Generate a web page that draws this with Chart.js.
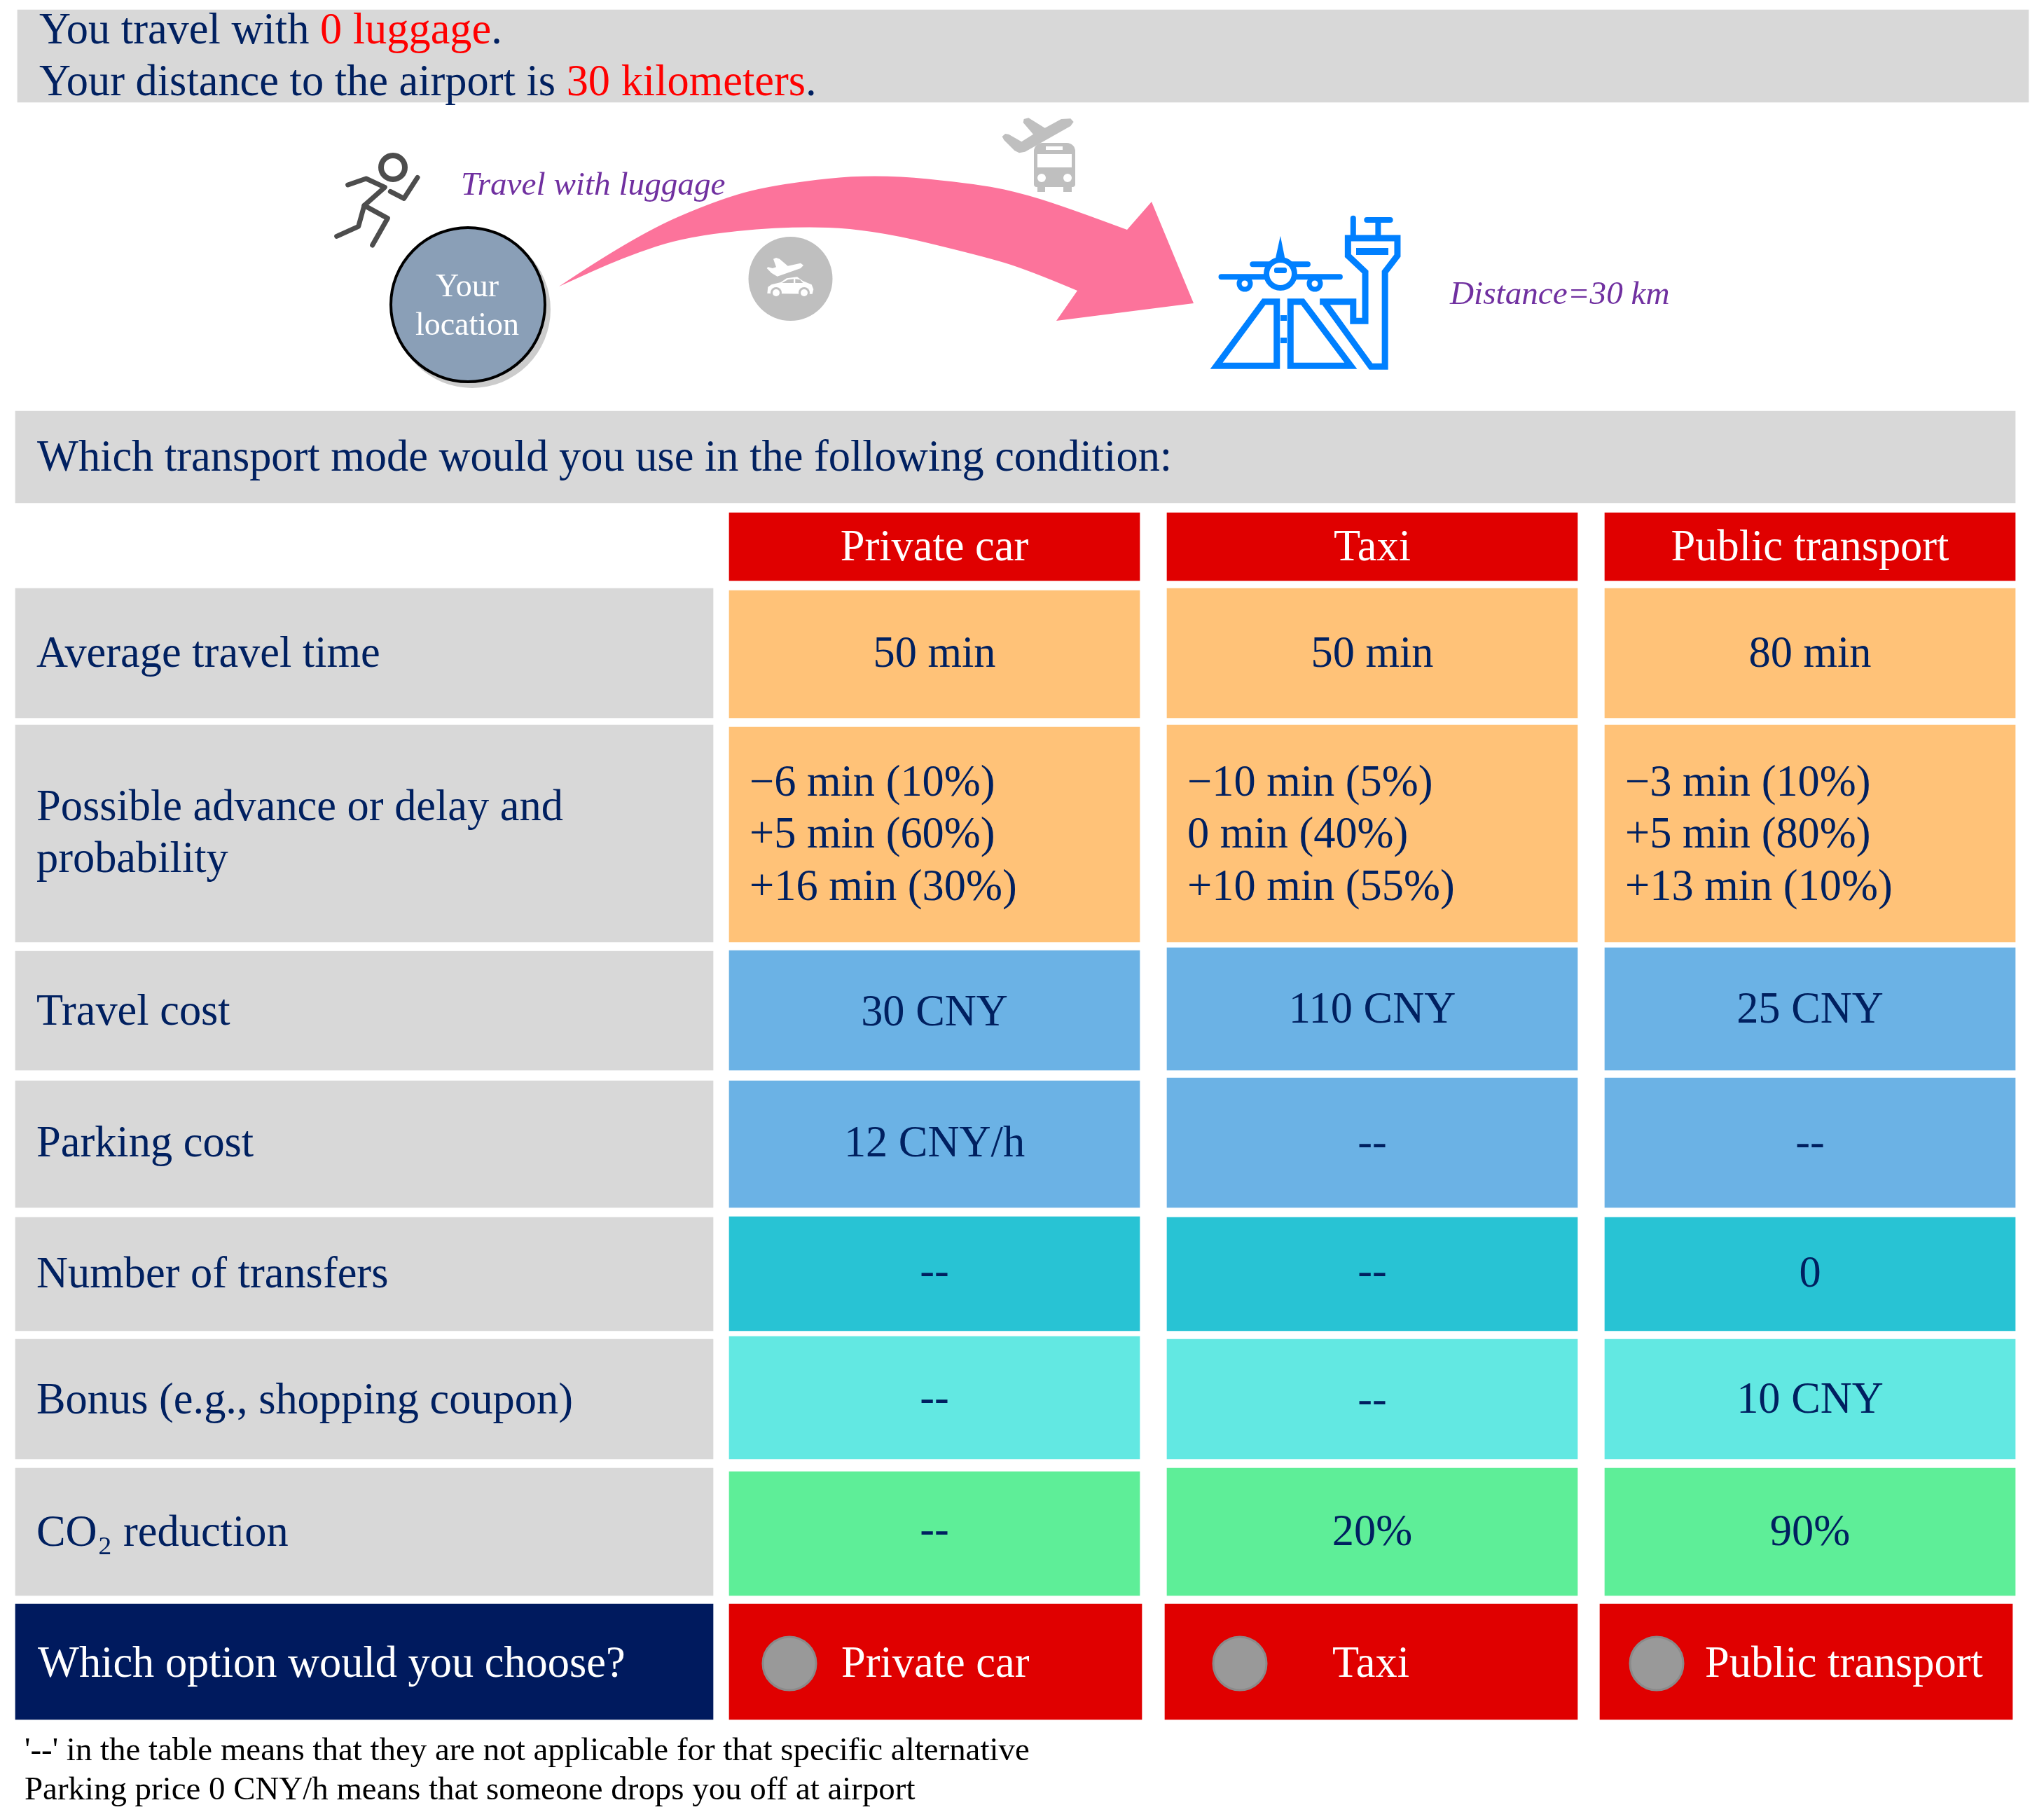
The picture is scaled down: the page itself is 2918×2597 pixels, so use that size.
<!DOCTYPE html>
<html>
<head>
<meta charset="utf-8">
<style>
  html, body { margin: 0; padding: 0; background: #fff; }
  canvas { display: block; }
</style>
<script src="https://cdn.jsdelivr.net/npm/chart.js@4/dist/chart.umd.min.js"></script>
</head>
<body>
<canvas id="myChart" width="2918" height="2597"></canvas>
<script>
// contents of the table
const modes = ["Private car", "Taxi", "Public transport"];
const rowLabels = [
    "Average travel time",
    ["Possible advance or delay and", "probability"],
    "Travel cost",
    "Parking cost",
    "Number of transfers",
    "Bonus (e.g., shopping coupon)",
    "CO₂ reduction"
];
const privateCar = ["50 min", ["−6 min (10%)", "+5 min (60%)", "+16 min (30%)"], "30 CNY", "12 CNY/h", "--", "--", "--"];
const taxi = ["50 min", ["−10 min (5%)", "0 min (40%)", "+10 min (55%)"], "110 CNY", "--", "--", "--", "20%"];
const publicTransport = ["80 min", ["−3 min (10%)", "+5 min (80%)", "+13 min (10%)"], "25 CNY", "--", "0", "10 CNY", "90%"];
const question = "Which transport mode would you use in the following condition:";
const choosePrompt = "Which option would you choose?";
const notes = ["'--' in the table means that they are not applicable for that specific alternative",
               "Parking price 0 CNY/h means that someone drops you off at airport"];

// layout of the table, in page pixels
const labelCol = { left: 22, right: 1018 };
const cols = [{ left: 1041, right: 1627 }, { left: 1666, right: 2252 }, { left: 2291, right: 2877 }];
const chooseCols = [{ left: 1041, right: 1630 }, { left: 1663, right: 2252 }, { left: 2284, right: 2873 }];
const rowBottoms = [1025, 1345, 1528, 1724, 1900, 2083, 2278];
const labelTops = [840, 1035, 1358, 1543, 1738, 1912, 2096];
const colTops = [
    [843, 1038, 1357, 1543, 1737, 1908, 2101],
    [840, 1035, 1353, 1539, 1738, 1912, 2096],
    [840, 1035, 1353, 1539, 1738, 1912, 2096]
];
const headerBand = [732, 829];
const chooseBand = [2290, 2455];
const rowColors = ["#FFC278", "#FFC278", "#6BB2E5", "#6BB2E5", "#28C3D4", "#62E8E2", "#5EEE98"];
const labelBaselines = [952, [1171, 1245], 1463, 1651, 1838, 2018, 2207];
const cellBaselines = [
    [952, [1136, 1210, 1285], 1464, 1651, 1835, 2016, 2204],
    [952, [1136, 1210, 1285], 1460, 1651, 1835, 2018, 2206],
    [952, [1136, 1210, 1285], 1460, 1651, 1837, 2017, 2206]
];
const chooseTextX = [1201, 1902, 2434];
const radioCenters = [{ x: 1127, y: 2375 }, { x: 1770, y: 2375 }, { x: 2365, y: 2375 }];

const NAVY = "#002060", RED = "#E00000", GRAY = "#D8D8D8", PURPLE = "#7030A0";
const ICON_GRAY = "#BFBFBF", BLUE = "#0080FF", PINK = "#FC739B", INK = "#4D4D4D";

function colDataset(col, items, colors) {
    return {
        type: "bar",
        stack: "tabla",
        order: 2,
        barThickness: col.right - col.left,
        data: items.map((r) => ({ x: (col.left + col.right) / 2, y: r })),
        backgroundColor: colors
    };
}

const datasets = [
    colDataset({ left: 25, right: 2896 }, [[14, 146]], [GRAY]),
    colDataset({ left: 22, right: 2877 }, [[587, 718]], [GRAY]),
    colDataset(labelCol, labelTops.map((t, i) => [t, rowBottoms[i]]), labelTops.map(() => GRAY)),
    colDataset(labelCol, [chooseBand], ["#001A5E"])
];
cols.forEach((col, c) => {
    const items = [headerBand].concat(colTops[c].map((t, i) => [t, rowBottoms[i]]));
    datasets.push(colDataset(col, items, [RED].concat(rowColors)));
    datasets.push(colDataset(chooseCols[c], [chooseBand], [RED]));
});

function circles(points, radius, fill, border, borderWidth) {
    return {
        type: "scatter",
        order: 1,
        data: points,
        pointRadius: radius,
        pointHoverRadius: radius,
        pointBackgroundColor: fill,
        pointBorderColor: border,
        pointBorderWidth: borderWidth
    };
}
// drawn in reverse order, so the location circle comes before its shadow
datasets.unshift(
    circles(radioCenters, 38, "#999999", "#8A8A8A", 3),
    circles([{ x: 668, y: 435 }], 110, "#8A9FB7", "#000000", 4),
    circles([{ x: 674, y: 442 }], 112, "#CCCCCC", "#CCCCCC", 0),
    circles([{ x: 1128.5, y: 398 }], 60, ICON_GRAY, ICON_GRAY, 0)
);

// outlines of the decoration, in page pixels
const arrowTop = [[798, 409], [905, 337], [1032, 282], [1116, 262], [1249, 248], [1400, 263], [1467, 278], [1533, 300], [1609, 328]];
const arrowHead = [[1644, 288], [1704, 433], [1508, 458], [1538, 415]];
const arrowBottom = [[1538, 415], [1467, 385], [1400, 365], [1242, 327], [1123, 323], [982, 337], [891, 367], [798, 409]];
const busPlane = [[92, 135], [105, 123], [120, 125], [175, 157], [225, 125], [182, 75], [185, 60], [205, 55], [275, 98], [345, 60], [385, 58], [398, 72], [385, 90], [190, 200], [165, 205], [145, 195], [100, 150]];
const carPlane = [[108, 95], [120, 90], [135, 95], [170, 125], [225, 113], [237, 122], [225, 135], [125, 170], [100, 155], [80, 135], [85, 130], [105, 135], [120, 130]];
const carBody = [[82, 243], [85, 215], [100, 205], [140, 195], [165, 178], [210, 172], [235, 190], [272, 205], [280, 225], [275, 245]];
const carWindowA = [[145, 198], [170, 184], [195, 181], [195, 198]];
const carWindowB = [[202, 181], [222, 184], [235, 198], [202, 198]];
const runnerLines = [
    [[80, 162], [158, 135], [238, 172], [150, 250], [250, 305], [185, 420]],
    [[150, 250], [125, 340], [32, 382]],
    [[262, 190], [320, 220], [378, 130]]
];
const apLeft = [[356, 872], [238, 1147], [388, 1147], [388, 872]];
const apRight = [[422, 872], [452, 872], [572, 1147], [422, 1147]];
const apTower = [[495, 872], [578, 872], [578, 955], [608, 955], [608, 745], [565, 675], [565, 600], [688, 600], [688, 675], [657, 745], [657, 1150], [622, 1150], [505, 872]];

const drawExtras = {
    id: "drawExtras",
    afterDatasetsDraw(chart) {
        const ctx = chart.ctx;
        const X = (v) => chart.scales.x.getPixelForValue(v);
        const Y = (v) => chart.scales.y.getPixelForValue(v);

        function poly(points, map) {
            ctx.beginPath();
            points.forEach((p, i) => {
                const q = map ? map(p) : p;
                if (i === 0) ctx.moveTo(X(q[0]), Y(q[1])); else ctx.lineTo(X(q[0]), Y(q[1]));
            });
        }
        function smooth(points) {
            for (let i = 1; i < points.length - 1; i++) {
                const mx = (points[i][0] + points[i + 1][0]) / 2, my = (points[i][1] + points[i + 1][1]) / 2;
                ctx.quadraticCurveTo(X(points[i][0]), Y(points[i][1]), X(mx), Y(my));
            }
            const l = points[points.length - 1];
            ctx.lineTo(X(l[0]), Y(l[1]));
        }
        function rect(x0, y0, x1, y1, color) {
            ctx.fillStyle = color;
            ctx.fillRect(X(x0), Y(y0), X(x1) - X(x0), Y(y1) - Y(y0));
        }
        function dot(x, y, r, color) {
            ctx.fillStyle = color;
            ctx.beginPath();
            ctx.arc(X(x), Y(y), r, 0, Math.PI * 2);
            ctx.fill();
        }
        function put(str, x, y, font, color, align) {
            ctx.font = font;
            ctx.fillStyle = color;
            ctx.textAlign = align || "left";
            ctx.textBaseline = "alphabetic";
            ctx.fillText(str, X(x), Y(y));
        }
        function spans(parts, x, y, font) {
            ctx.font = font;
            let cx = x;
            parts.forEach((p) => {
                put(p[0], cx, y, font, p[1]);
                cx += ctx.measureText(p[0]).width;
            });
        }

        // arrow
        ctx.fillStyle = PINK;
        ctx.beginPath();
        ctx.moveTo(X(arrowTop[0][0]), Y(arrowTop[0][1]));
        smooth(arrowTop);
        arrowHead.forEach((p) => ctx.lineTo(X(p[0]), Y(p[1])));
        smooth(arrowBottom);
        ctx.closePath();
        ctx.fill();

        // bus and plane
        const bus = ([a, b]) => [1400 + a / 3, 150 + b / 3];
        ctx.fillStyle = ICON_GRAY;
        ctx.beginPath();
        ctx.roundRect(X(1476), Y(204), 59, 63, [12, 12, 4, 4]);
        ctx.fill();
        rect(1481, 262, 1492, 274, ICON_GRAY);
        rect(1518, 262, 1530, 274, ICON_GRAY);
        rect(1481, 220, 1530, 239, "#fff");
        rect(1493, 209, 1517, 214, "#fff");
        dot(1487, 254, 6, "#fff");
        dot(1524, 254, 6, "#fff");
        poly(busPlane, bus);
        ctx.fillStyle = ICON_GRAY;
        ctx.fill();

        // car and plane inside the grey circle
        const car = ([a, b]) => [1068 + a / 3, 338 + b / 3];
        poly(carPlane, car);
        ctx.fillStyle = "#fff";
        ctx.fill();
        poly(carBody, car);
        ctx.fill();
        poly(carWindowA, car);
        ctx.fillStyle = ICON_GRAY;
        ctx.fill();
        poly(carWindowB, car);
        ctx.fill();
        dot(1068 + 120 / 3, 338 + 240 / 3, 8, ICON_GRAY);
        dot(1068 + 240 / 3, 338 + 240 / 3, 8, ICON_GRAY);
        dot(1068 + 120 / 3, 338 + 240 / 3, 5, "#fff");
        dot(1068 + 240 / 3, 338 + 240 / 3, 5, "#fff");

        // runner
        const run = ([a, b]) => [470 + a / 3, 210 + b / 3];
        ctx.strokeStyle = INK;
        ctx.lineWidth = 7;
        ctx.lineCap = "round";
        ctx.lineJoin = "round";
        runnerLines.forEach((l) => { poly(l, run); ctx.stroke(); });
        ctx.lineWidth = 8;
        ctx.beginPath();
        ctx.arc(X(561), Y(239), 17, 0, Math.PI * 2);
        ctx.stroke();

        // airport
        const ap = ([a, b]) => [1600 + a / 1.742, 140 + b / 3];
        ctx.strokeStyle = BLUE;
        ctx.lineWidth = 9;
        ctx.lineCap = "butt";
        ctx.lineJoin = "miter";
        poly(apLeft, ap); ctx.closePath(); ctx.stroke();
        poly(apRight, ap); ctx.closePath(); ctx.stroke();
        poly(apTower, ap); ctx.stroke();
        rect(1828, 450, 1837, 458, BLUE);
        rect(1828, 482, 1837, 490, BLUE);
        rect(1936, 354, 1982, 364, BLUE);
        ctx.lineCap = "round";
        ctx.lineWidth = 8;
        poly([[578, 515], [578, 595]], ap); ctx.stroke();
        poly([[640, 525], [640, 595]], ap); ctx.stroke();
        poly([[612, 522], [670, 522]], ap); ctx.stroke();
        poly([[250, 766], [545, 766]], ap); ctx.stroke();
        poly([[328, 712], [465, 712]], ap); ctx.stroke();
        poly([[397, 590], [385, 685], [408, 685]], ap);
        ctx.fillStyle = BLUE;
        ctx.fill();
        ctx.fillStyle = "#fff";
        ctx.lineWidth = 8;
        ctx.beginPath();
        ctx.arc(X(1828), Y(391), 20, 0, Math.PI * 2);
        ctx.fill();
        ctx.stroke();
        ctx.lineWidth = 7;
        [1777, 1877].forEach((x) => {
            ctx.beginPath();
            ctx.arc(X(x), Y(405), 8, 0, Math.PI * 2);
            ctx.fillStyle = "#fff";
            ctx.fill();
            ctx.stroke();
        });
        ctx.beginPath();
        ctx.roundRect(X(1819), Y(382), 18, 8, 3);
        ctx.fillStyle = BLUE;
        ctx.fill();

        // texts
        const BIG = "62.4px 'Liberation Serif'";
        const SMALL = "46.9px 'Liberation Serif'";
        const SLANT = "italic 47.2px 'Liberation Serif'";
        spans([["You travel with ", NAVY], ["0 luggage", "#FF0000"], [".", NAVY]], 56, 62, BIG);
        spans([["Your distance to the airport is ", NAVY], ["30 kilometers", "#FF0000"], [".", NAVY]], 56, 136, BIG);
        put("Travel with luggage", 658, 278, SLANT, PURPLE);
        put("Distance=30 km", 2070, 434, SLANT, PURPLE);
        put("Your", 667, 423, "46px 'Liberation Serif'", "#fff", "center");
        put("location", 667, 478, "46px 'Liberation Serif'", "#fff", "center");
        put(question, 53, 672, BIG, NAVY);

        rowLabels.forEach((label, r) => {
            if (Array.isArray(label)) {
                label.forEach((l, i) => put(l, 52, labelBaselines[r][i], BIG, NAVY));
            } else {
                put(label, 52, labelBaselines[r], BIG, NAVY);
            }
        });
        [privateCar, taxi, publicTransport].forEach((values, c) => {
            const mid = (cols[c].left + cols[c].right) / 2;
            put(modes[c], mid, 800, BIG, "#fff", "center");
            values.forEach((v, r) => {
                if (Array.isArray(v)) {
                    v.forEach((l, i) => put(l, cols[c].left + 29, cellBaselines[c][r][i], BIG, NAVY));
                } else {
                    put(v, mid, cellBaselines[c][r], BIG, NAVY, "center");
                }
            });
            put(modes[c], chooseTextX[c], 2394, BIG, "#fff");
        });
        put(choosePrompt, 54, 2394, BIG, "#fff");
        put(notes[0], 35, 2513, SMALL, "#000");
        put(notes[1], 35, 2569, SMALL, "#000");
    }
};

const myChart = new Chart(document.getElementById("myChart"), {
    type: "bar",
    data: { datasets: datasets },
    options: {
        responsive: false,
        devicePixelRatio: 1,
        animation: false,
        layout: { padding: 0, autoPadding: false },
        plugins: { legend: { display: false }, tooltip: { enabled: false } },
        scales: {
            x: { type: "linear", min: 0, max: 2918, offset: false, display: false },
            y: { type: "linear", min: 0, max: 2597, reverse: true, stacked: false, display: false }
        }
    },
    plugins: [drawExtras]
});
</script>
</body>
</html>
